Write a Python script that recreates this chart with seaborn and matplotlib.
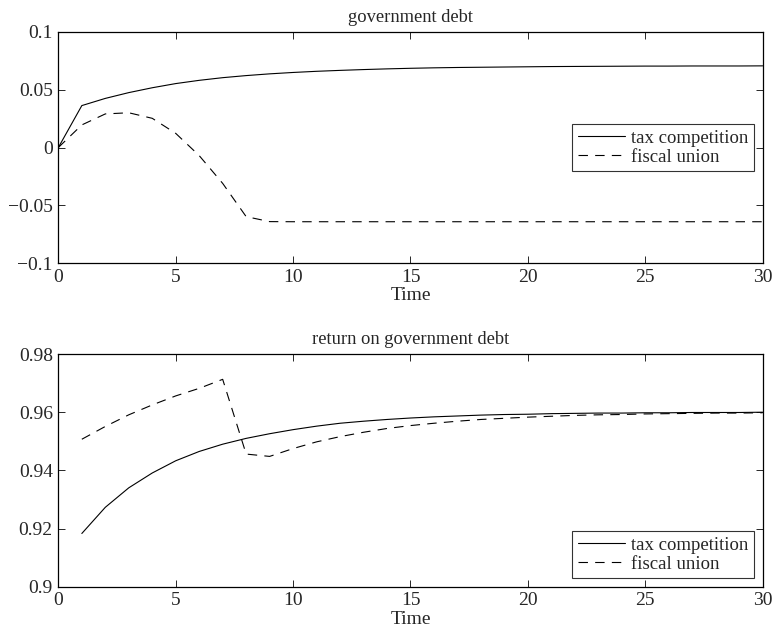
import numpy as np
import pandas as pd
import matplotlib
matplotlib.use("Agg")
import matplotlib.pyplot as plt
import seaborn as sns

# Impulse responses, periods 0..30
time_debt = list(range(0, 31))
debt_tax_competition = [
    0.0, 0.0362, 0.0424, 0.0474, 0.0516, 0.0552, 0.0580, 0.0603, 0.0621,
    0.0636, 0.0648, 0.0658, 0.0666, 0.0673, 0.0679, 0.0684, 0.0688, 0.0691,
    0.0693, 0.0695, 0.0697, 0.0699, 0.0700, 0.0701, 0.0702, 0.0703, 0.0703,
    0.0704, 0.0704, 0.0704, 0.0705,
]
debt_fiscal_union = [
    0.0, 0.0195, 0.0290, 0.0300, 0.0252, 0.0122, -0.0070, -0.0310, -0.0597,
    -0.0640, -0.0641, -0.0641, -0.0641, -0.0641, -0.0641, -0.0641, -0.0641,
    -0.0641, -0.0641, -0.0641, -0.0641, -0.0641, -0.0641, -0.0641, -0.0641,
    -0.0641, -0.0641, -0.0641, -0.0641, -0.0641, -0.0641,
]

time_return = list(range(1, 31))
return_tax_competition = [
    0.9183, 0.9273, 0.9340, 0.9391, 0.9433, 0.9465, 0.9490, 0.9510, 0.9526,
    0.9540, 0.9552, 0.9562, 0.9569, 0.9575, 0.9580, 0.9584, 0.9587, 0.9590,
    0.9592, 0.9593, 0.9595, 0.9596, 0.9597, 0.9597, 0.9598, 0.9598, 0.9599,
    0.9599, 0.9599, 0.9600,
]
return_fiscal_union = [
    0.9507, 0.9551, 0.9591, 0.9625, 0.9656, 0.9682, 0.9713, 0.9456, 0.9448,
    0.9475, 0.9498, 0.9516, 0.9531, 0.9544, 0.9554, 0.9562, 0.9569, 0.9575,
    0.9579, 0.9583, 0.9586, 0.9589, 0.9591, 0.9592, 0.9594, 0.9595, 0.9596,
    0.9597, 0.9597, 0.9598,
]

series_names = ["tax competition", "fiscal union"]
titles = ["government debt", "return on government debt"]
x_ticks = [0, 5, 10, 15, 20, 25, 30]
debt_ticks = [-0.1, -0.05, 0.0, 0.05, 0.1]
debt_tick_labels = ["\u22120.1", "\u22120.05", "0", "0.05", "0.1"]
return_ticks = [0.9, 0.92, 0.94, 0.96, 0.98]
return_tick_labels = ["0.9", "0.92", "0.94", "0.96", "0.98"]

sns.set_style("ticks")
plt.rcParams["font.family"] = ["Liberation Serif", "DejaVu Serif"]
plt.rcParams.update({
    "axes.linewidth": 0.9,
    "xtick.direction": "in",
    "ytick.direction": "in",
    "xtick.top": True,
    "ytick.right": True,
    "xtick.major.size": 5,
    "ytick.major.size": 5,
    "xtick.major.width": 0.7,
    "ytick.major.width": 0.7,
    "xtick.major.pad": 4,
    "ytick.major.pad": 4,
})

TICK_FS = 14
LEGEND_FS = 13.5
TITLE_FS = 13.3

def long_frame(t, a, b):
    return pd.DataFrame({
        "Time": list(t) * 2,
        "value": list(a) + list(b),
        "series": [series_names[0]] * len(a) + [series_names[1]] * len(b),
    })

fig = plt.figure(figsize=(7.75, 6.34), dpi=100)
ax1 = fig.add_axes([0.0753, 0.5847, 0.9087, 0.3653])
ax2 = fig.add_axes([0.0753, 0.0746, 0.9087, 0.3670])

panels = [
    (ax1, long_frame(time_debt, debt_tax_competition, debt_fiscal_union),
     (-0.1, 0.1), debt_ticks, debt_tick_labels, "center right"),
    (ax2, long_frame(time_return, return_tax_competition, return_fiscal_union),
     (0.9, 0.98), return_ticks, return_tick_labels, "lower right"),
]

for ax, df, ylim, yt, ytl, loc in panels:
    sns.lineplot(data=df, x="Time", y="value", style="series",
                 style_order=series_names,
                 dashes={series_names[0]: "", series_names[1]: (8.5, 6.5)},
                 color="black", linewidth=0.8, ax=ax)
    ax.set_xlim(0, 30)
    ax.set_ylim(*ylim)
    ax.set_xticks(x_ticks)
    ax.set_xticklabels([str(v) for v in x_ticks])
    ax.set_yticks(yt)
    ax.set_yticklabels(ytl)
    ax.set_ylabel("")
    ax.set_xlabel("Time", fontsize=TICK_FS, labelpad=1)
    ax.tick_params(labelsize=TICK_FS)
    for s in ax.spines.values():
        s.set_visible(True)
        s.set_color("black")
    leg = ax.legend(loc=loc, fontsize=LEGEND_FS, frameon=True, fancybox=False,
                    handlelength=2.5, handletextpad=0.35, borderpad=0.3,
                    labelspacing=0.1, borderaxespad=0.45)
    leg.get_frame().set_edgecolor("black")
    leg.get_frame().set_linewidth(0.8)
    for line in leg.get_lines():
        line.set_linewidth(0.8)

ax1.set_title(titles[0], fontsize=TITLE_FS, pad=7)
ax2.set_title(titles[1], fontsize=TITLE_FS, pad=7)

fig.savefig("out.png", dpi=100)
